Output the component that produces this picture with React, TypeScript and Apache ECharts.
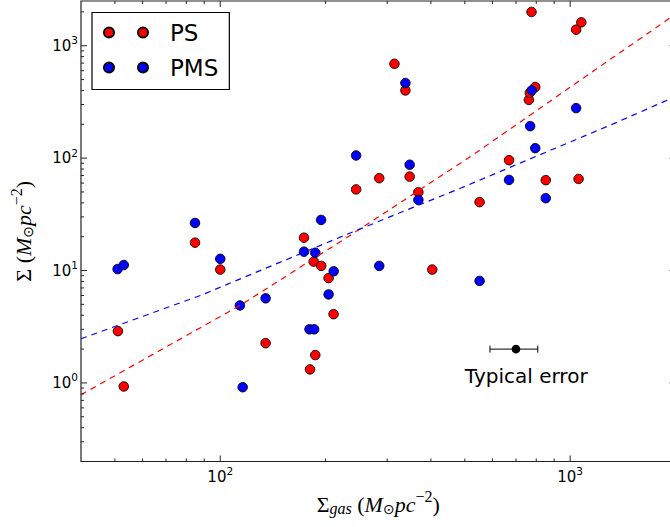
import React, { useEffect, useRef } from 'react';
import * as echarts from 'echarts';

// ---- data ----
const psX = [51, 53, 84.7, 100, 134.8, 173.5, 180.5, 184.9, 186.9, 194.3, 204, 210.8, 244.5, 284.7, 314.7, 338.2, 347.8, 368.3, 403.6, 551, 668.9, 761.9, 766.8, 775.5, 794.8, 851.6, 1040, 1057, 1076];
const psY = [2.89, 0.93, 17.7, 10.2, 2.26, 19.6, 1.32, 12.0, 1.77, 11.0, 8.57, 4.09, 52.7, 66.3, 691, 400, 68.5, 49.7, 10.2, 40.6, 95.9, 330, 381, 1997, 429, 63.7, 1389, 65.3, 1614];

const pmsX = [50.9, 53, 84.7, 100, 113.8, 115.9, 134.8, 173.5, 179.9, 185.5, 186.9, 194.2, 211, 204, 244.5, 284.7, 338.2, 347.8, 368.3, 551, 668.9, 768.4, 777, 794.8, 851.6, 1040];
const pmsY = [10.3, 11.2, 26.5, 12.7, 4.89, 0.916, 5.66, 14.7, 3.0, 3.0, 14.4, 28.2, 9.85, 6.13, 105.6, 11.0, 466, 87.4, 42.5, 8.09, 64, 192.6, 401, 122.6, 44, 278.6];

// dashed fit lines
const psFitX = [40, 114.3, 236.1, 518.9, 1217, 2000];
const psFitY = [0.785, 4.92, 20.7, 103.2, 654, 1909];
const pmsFitX = [40, 88.3, 236.1, 486, 1343, 2000];
const pmsFitY = [2.47, 6.04, 21.7, 54.0, 204.8, 352.7];

// typical error annotation
const errPoint = [700, 2];
const errRange = [590, 808];
const errNote = { x: 500, y: 1, text: 'Typical error' };

// axes
const xRange = [40, 2000];
const yRange = [0.2, 2500];
const xMajorTicks = [100, 1000];
const xMinorTicks = [50, 60, 70, 80, 90, 200, 300, 400, 500, 600, 700, 800, 900];
const yMajorTicks = [1, 10, 100, 1000];
const yMinorTicks = [0.3, 0.4, 0.5, 0.6, 0.7, 0.8, 0.9, 2, 3, 4, 5, 6, 7, 8, 9, 20, 30, 40, 50, 60, 70, 80, 90, 200, 300, 400, 500, 600, 700, 800, 900, 2000];

const zip = (xs: number[], ys: number[]) => xs.map((x, i) => [x, ys[i]]);

const AXIS_COLOR = '#222';
const MATH_FONT = 'Liberation Serif';
const SANS = 'DejaVu Sans';

const powLabel = (v: number) => {
  const l = Math.log10(v);
  const e = Math.round(l);
  if (Math.abs(l - e) > 1e-6) return '';
  return `{b|10}{s|${e}}`;
};
const tickRich = {
  b: { fontSize: 15, fontFamily: SANS, color: '#000' },
  s: { fontSize: 10.5, fontFamily: SANS, color: '#000', padding: [0, 0, 11, 0] },
};
const nameRich = {
  n: { fontSize: 22, fontFamily: MATH_FONT, color: '#000' },
  i: { fontSize: 22, fontFamily: MATH_FONT, fontStyle: 'italic', color: '#000' },
  subI: { fontSize: 16, fontFamily: MATH_FONT, fontStyle: 'italic', color: '#000', padding: [9, 0, 0, 0] },
  subN: { fontSize: 14, fontFamily: SANS, color: '#000', padding: [9, 0, 0, 0] },
  sup: { fontSize: 16, fontFamily: MATH_FONT, color: '#000', padding: [0, 0, 15, 0] },
};

export default function App() {
  const ref = useRef<HTMLDivElement>(null);
  useEffect(() => {
    if (!ref.current) return;
    const chart = echarts.init(ref.current, undefined, { renderer: 'svg' });
    const option: any = {
      animation: false,
      backgroundColor: '#fff',
      grid: {
        show: true,
        left: 79.5,
        top: 1,
        width: 596,
        height: 460.5,
        borderColor: AXIS_COLOR,
        borderWidth: 1.2,
        backgroundColor: 'transparent',
      },
      legend: {
        data: ['PS', 'PMS'],
        orient: 'vertical',
        left: 92,
        top: 12.5,
        padding: [8, 11, 10, 11],
        itemGap: 11,
        itemWidth: 44,
        itemHeight: 10,
        icon: 'path://M0,5A5,5 0 1 1 10,5A5,5 0 1 1 0,5ZM34,5A5,5 0 1 1 44,5A5,5 0 1 1 34,5Z',
        borderColor: '#000',
        borderWidth: 1.2,
        borderRadius: 0,
        backgroundColor: '#fff',
        selectedMode: false,
        z: 10,
        textStyle: { fontFamily: SANS, fontSize: 23, color: '#000', padding: [0, 0, 0, 17], lineHeight: 24 },
      },
      xAxis: {
        type: 'log',
        logBase: 10,
        min: xRange[0],
        max: xRange[1],
        axisLine: { show: false },
        axisTick: { show: false },
        splitLine: { show: false },
        axisLabel: { formatter: powLabel, rich: tickRich, margin: 4, showMinLabel: false, showMaxLabel: false },
        name: '{n|Σ}{subI|gas}{n| (}{i|M}{subN|⊙}{i|pc}{sup|−2}{n|)}',
        nameLocation: 'middle',
        nameGap: 27,
        nameTextStyle: { rich: nameRich },
      },
      yAxis: {
        type: 'log',
        logBase: 10,
        min: yRange[0],
        max: yRange[1],
        axisLine: { show: false },
        axisTick: { show: false },
        splitLine: { show: false },
        axisLabel: { formatter: powLabel, rich: tickRich, margin: 3, showMinLabel: false, showMaxLabel: false },
        name: '{n|Σ (}{i|M}{subN|⊙}{i|pc}{sup|−2}{n|)}',
        nameLocation: 'middle',
        nameGap: 42,
        nameTextStyle: { rich: nameRich },
      },
      series: [
        {
          name: 'PS',
          type: 'scatter',
          data: zip(psX, psY),
          symbol: 'circle',
          symbolSize: 9.5,
          itemStyle: { color: '#ff0000', borderColor: '#000', borderWidth: 0.9, opacity: 1 },
          z: 2,
        },
        {
          name: 'PMS',
          type: 'scatter',
          data: zip(pmsX, pmsY),
          symbol: 'circle',
          symbolSize: 9.5,
          itemStyle: { color: '#0000ff', borderColor: '#000', borderWidth: 0.9, opacity: 1 },
          z: 2,
        },
        {
          name: 'PS fit',
          type: 'line',
          data: zip(psFitX, psFitY),
          showSymbol: false,
          symbol: 'none',
          lineStyle: { color: '#ff0000', width: 1.2, type: [6, 5] },
          z: 3,
        },
        {
          name: 'PMS fit',
          type: 'line',
          data: zip(pmsFitX, pmsFitY),
          showSymbol: false,
          symbol: 'none',
          lineStyle: { color: '#0000ff', width: 1.2, type: [6, 5] },
          z: 3,
        },
        {
          name: 'ticks',
          type: 'custom',
          data: [[100, 1]],
          silent: true,
          z: 4,
          renderItem: (params: any, api: any) => {
            const cs = params.coordSys;
            const left = cs.x, top = cs.y, right = cs.x + cs.width, bottom = cs.y + cs.height;
            const children: any[] = [];
            const st = { stroke: AXIS_COLOR, lineWidth: 1 };
            const addX = (v: number, len: number) => {
              const px = api.coord([v, yRange[0]])[0];
              children.push({ type: 'line', shape: { x1: px, y1: bottom, x2: px, y2: bottom - len }, style: st });
              children.push({ type: 'line', shape: { x1: px, y1: top, x2: px, y2: top + len }, style: st });
            };
            const addY = (v: number, len: number) => {
              const py = api.coord([xRange[0], v])[1];
              children.push({ type: 'line', shape: { x1: left, y1: py, x2: left + len, y2: py }, style: st });
              children.push({ type: 'line', shape: { x1: right, y1: py, x2: right - len, y2: py }, style: st });
            };
            xMajorTicks.forEach((v) => addX(v, 6));
            xMinorTicks.forEach((v) => addX(v, 3));
            yMajorTicks.forEach((v) => addY(v, 6));
            yMinorTicks.forEach((v) => addY(v, 3));
            return { type: 'group', children };
          },
        },
        {
          name: 'error',
          type: 'custom',
          data: [[errPoint[0], errPoint[1], errRange[0], errRange[1]]],
          silent: true,
          z: 5,
          renderItem: (params: any, api: any) => {
            const y = api.value(1);
            const c = api.coord([api.value(0), y]);
            const lo = api.coord([api.value(2), y]);
            const hi = api.coord([api.value(3), y]);
            const t = api.coord([errNote.x, errNote.y]);
            const st = { stroke: '#000', lineWidth: 1 };
            return {
              type: 'group',
              children: [
                { type: 'line', shape: { x1: lo[0], y1: lo[1], x2: hi[0], y2: hi[1] }, style: st },
                { type: 'line', shape: { x1: lo[0], y1: lo[1] - 3.5, x2: lo[0], y2: lo[1] + 3.5 }, style: st },
                { type: 'line', shape: { x1: hi[0], y1: hi[1] - 3.5, x2: hi[0], y2: hi[1] + 3.5 }, style: st },
                { type: 'circle', shape: { cx: c[0], cy: c[1], r: 4.3 }, style: { fill: '#000' } },
                {
                  type: 'text',
                  x: t[0],
                  y: t[1] - 6.5,
                  style: {
                    text: errNote.text,
                    fontSize: 20,
                    fontFamily: SANS,
                    fill: '#000',
                    align: 'left',
                    textAlign: 'left',
                    verticalAlign: 'middle',
                    textVerticalAlign: 'middle',
                  },
                },
              ],
            };
          },
        },
      ],
    };
    chart.setOption(option);
    return () => chart.dispose();
  }, []);
  return (
    <div style={{ position: 'absolute', left: 0, top: 0, width: 670, height: 527, overflow: 'hidden', background: '#fff' }}>
      <div ref={ref} style={{ width: 680, height: 527 }} />
    </div>
  );
}
